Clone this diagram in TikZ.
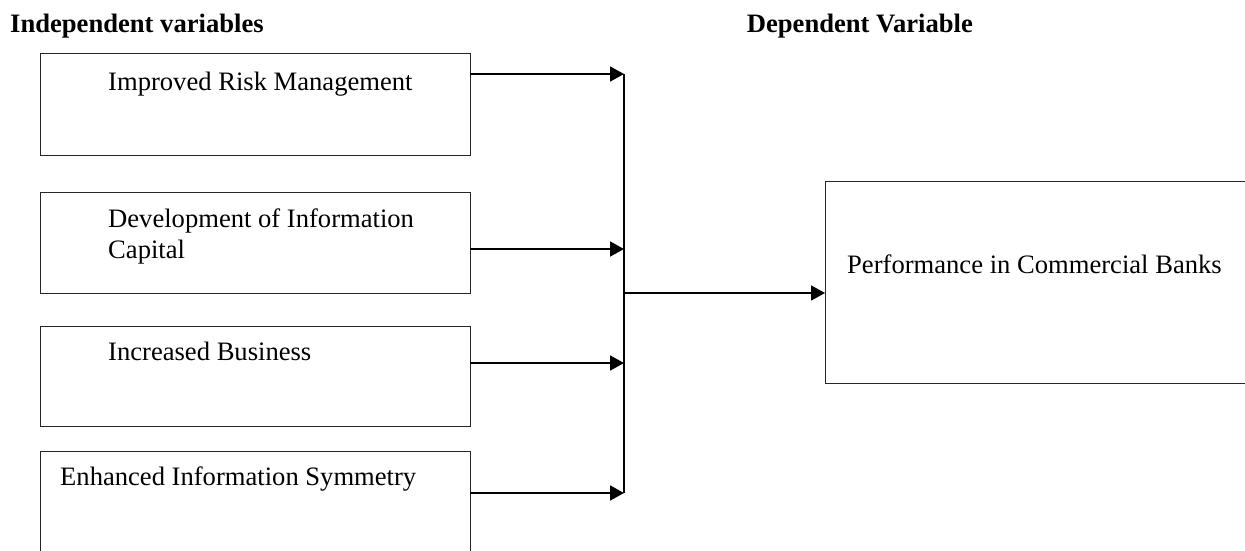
\documentclass[tikz,border=0pt]{standalone}
\usepackage{fontspec}
\setmainfont{Liberation Serif}
\usetikzlibrary{arrows.meta}
\begin{document}
\begin{tikzpicture}[x=1pt,y=-1pt,
  box/.style={draw=black!85,line width=1pt,rectangle,inner sep=0pt,outer sep=0pt,anchor=north west},
  lbl/.style={anchor=base west,inner sep=0pt,font=\fontsize{26.6}{31}\selectfont},
  head/.style={lbl,font=\fontsize{26.6}{31}\selectfont\bfseries},
  link/.style={line width=1.8pt,black},
  arr/.style={link,-{Triangle[length=14pt,width=15pt]}}]
\useasboundingbox (0,0) rectangle (1245,551);
% headings
\node[head] (h1) at (10,33) {Independent variables};
\node[head,anchor=base east] (h2) at (973,33) {Dependent Variable};
% boxes
\node[box,minimum width=430pt,minimum height=101pt] (b1) at (40,54) {};
\node[box,minimum width=430pt,minimum height=101pt] (b2) at (40,192) {};
\node[box,minimum width=430pt,minimum height=100pt] (b3) at (40,326) {};
\node[box,minimum width=430pt,minimum height=140pt] (b4) at (40,451) {};
\node[box,minimum width=460pt,minimum height=202pt] (b5) at (825,181) {};
% labels
\node[lbl] (t1) at (108,90) {Improved Risk Management};
\node[lbl] (t2) at (108,227) {Development of Information};
\node[lbl] (t2b) at (108,258) {Capital};
\node[lbl] (t3) at (108,360) {Increased Business};
\node[lbl] (t4) at (60,485) {Enhanced Information Symmetry};
\node[lbl] (t5) at (847,273) {Performance in Commercial Banks};
% junction points
\coordinate (j1) at (624,74);
\coordinate (j2) at (624,249);
\coordinate (j3) at (624,363);
\coordinate (j4) at (624,493);
\coordinate (jm) at (624,293);
% connectors
\draw[arr] (b1.east |- j1) -- (j1);
\draw[arr] (b2.east |- j2) -- (j2);
\draw[arr] (b3.east |- j3) -- (j3);
\draw[arr] (b4.east |- j4) -- (j4);
\draw[link] (j1) -- (j4);
\draw[arr] (jm) -- (b5.west |- jm);
\end{tikzpicture}
\end{document}
